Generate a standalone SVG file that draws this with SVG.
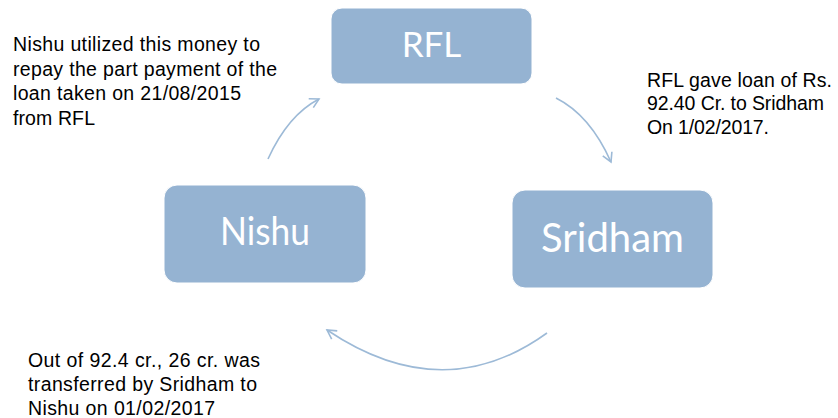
<svg xmlns="http://www.w3.org/2000/svg" width="838" height="418" viewBox="0 0 838 418">
  <style>
    .box { fill: #95B3D2; stroke: #ffffff; stroke-width: 1; }
    .label { font-family: Lato, "Open Sans", sans-serif; fill: #ffffff; text-anchor: middle; }
    .note { font-family: "Liberation Sans", Arial, sans-serif; font-size: 19.5px; fill: #000000; }
    .flow { fill: none; stroke: #9DBAD7; stroke-width: 1.6; marker-end: url(#head); }
  </style>
  <defs>
    <marker id="head" viewBox="0 0 12 12" refX="10" refY="6" markerWidth="12" markerHeight="12" markerUnits="userSpaceOnUse" orient="auto">
      <path d="M1,1 L10,6 L1,11" fill="none" stroke="#9DBAD7" stroke-width="1.6"/>
    </marker>
  </defs>

  <g id="connectors">
    <path class="flow" d="M556,98 Q590,115 611,162"/>
    <path class="flow" d="M547,333 Q443,408 327,330"/>
    <path class="flow" d="M268,159 Q288,115 319,99"/>
  </g>

  <g id="rfl">
    <rect class="box" x="331" y="8" width="201" height="76" rx="11"/>
    <text class="label" x="431.5" y="57" font-size="35">RFL</text>
  </g>

  <g id="sridham">
    <rect class="box" x="512" y="190" width="201" height="98" rx="13"/>
    <text class="label" x="612.5" y="252" font-size="40">Sridham</text>
  </g>

  <g id="nishu">
    <rect class="box" x="164" y="185" width="202" height="98" rx="13"/>
    <text class="label" x="265" y="245" font-size="38" textLength="90" lengthAdjust="spacingAndGlyphs">Nishu</text>
  </g>

  <g id="notes">
    <text class="note" x="13" y="51" textLength="247">Nishu utilized this money to</text>
    <text class="note" x="13" y="76" textLength="264">repay the part payment of the</text>
    <text class="note" x="13" y="100" textLength="228">loan taken on 21/08/2015</text>
    <text class="note" x="13" y="125" textLength="82">from RFL</text>

    <text class="note" x="647" y="87" textLength="185">RFL gave loan of Rs.</text>
    <text class="note" x="647" y="110" textLength="177">92.40 Cr. to Sridham</text>
    <text class="note" x="647" y="134" textLength="122">On 1/02/2017.</text>

    <text class="note" x="28" y="367" textLength="232">Out of 92.4 cr., 26 cr. was</text>
    <text class="note" x="28" y="391" textLength="229">transferred by Sridham to</text>
    <text class="note" x="28" y="415" textLength="187">Nishu on 01/02/2017</text>
  </g>
</svg>
